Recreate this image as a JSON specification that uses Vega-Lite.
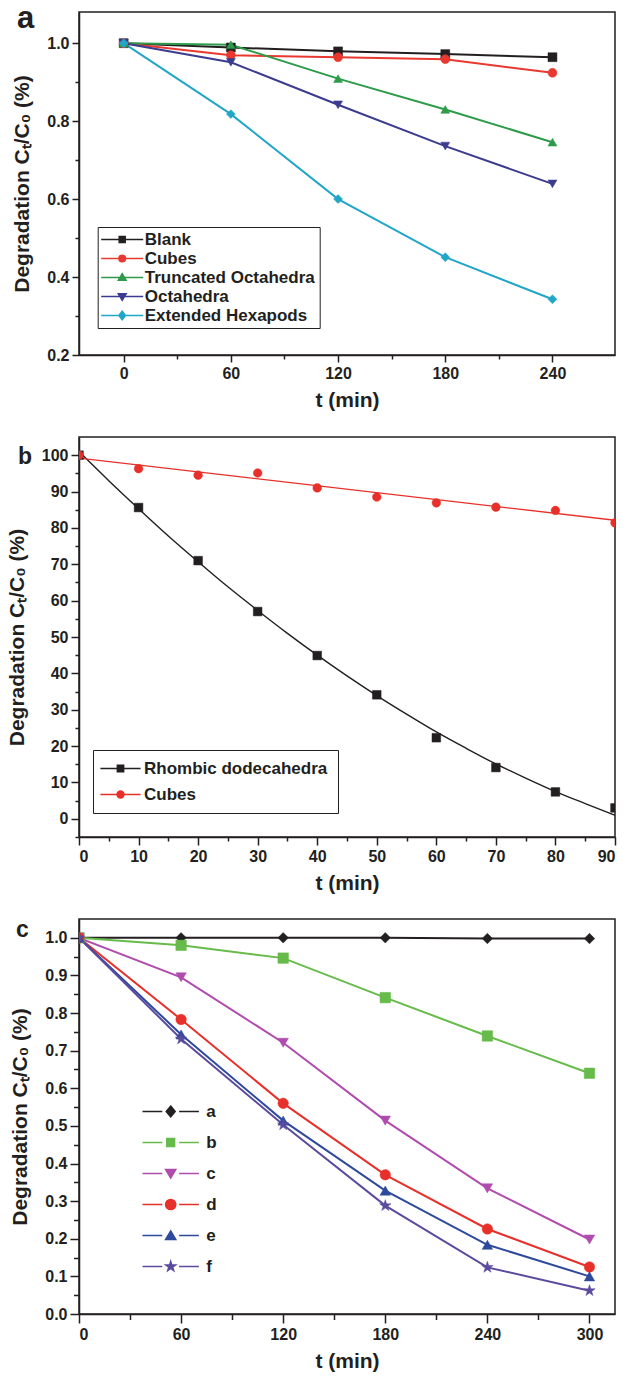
{
  "$schema": "https://vega.github.io/schema/vega-lite/v6.json",
  "background": "white",
  "padding": {"left": 5, "top": 2, "right": 10, "bottom": 6},
  "bounds": "flush",
  "spacing": 82,
  "resolve": {
    "scale": {"color": "independent", "fill": "independent", "stroke": "independent", "shape": "independent"},
    "legend": {"color": "independent", "fill": "independent", "stroke": "independent", "shape": "independent"}
  },
  "datasets": {
    "a": [
      {"series": "Blank", "t": 0, "v": 1.0}, {"series": "Blank", "t": 60, "v": 0.989}, {"series": "Blank", "t": 120, "v": 0.979}, {"series": "Blank", "t": 180, "v": 0.972}, {"series": "Blank", "t": 240, "v": 0.964},
      {"series": "Cubes", "t": 0, "v": 1.0}, {"series": "Cubes", "t": 60, "v": 0.969}, {"series": "Cubes", "t": 120, "v": 0.964}, {"series": "Cubes", "t": 180, "v": 0.959}, {"series": "Cubes", "t": 240, "v": 0.924},
      {"series": "Truncated Octahedra", "t": 0, "v": 1.0}, {"series": "Truncated Octahedra", "t": 60, "v": 0.996}, {"series": "Truncated Octahedra", "t": 120, "v": 0.909}, {"series": "Truncated Octahedra", "t": 180, "v": 0.83}, {"series": "Truncated Octahedra", "t": 240, "v": 0.746},
      {"series": "Octahedra", "t": 0, "v": 1.0}, {"series": "Octahedra", "t": 60, "v": 0.951}, {"series": "Octahedra", "t": 120, "v": 0.842}, {"series": "Octahedra", "t": 180, "v": 0.736}, {"series": "Octahedra", "t": 240, "v": 0.639},
      {"series": "Extended Hexapods", "t": 0, "v": 1.0}, {"series": "Extended Hexapods", "t": 60, "v": 0.818}, {"series": "Extended Hexapods", "t": 120, "v": 0.6}, {"series": "Extended Hexapods", "t": 180, "v": 0.451}, {"series": "Extended Hexapods", "t": 240, "v": 0.343}
    ],
    "b_pts": [
      {"series": "Rhombic dodecahedra", "t": 0, "v": 100}, {"series": "Rhombic dodecahedra", "t": 10, "v": 85.6}, {"series": "Rhombic dodecahedra", "t": 20, "v": 71.0}, {"series": "Rhombic dodecahedra", "t": 30, "v": 57.0}, {"series": "Rhombic dodecahedra", "t": 40, "v": 44.9}, {"series": "Rhombic dodecahedra", "t": 50, "v": 34.1}, {"series": "Rhombic dodecahedra", "t": 60, "v": 22.3}, {"series": "Rhombic dodecahedra", "t": 70, "v": 14.1}, {"series": "Rhombic dodecahedra", "t": 80, "v": 7.4}, {"series": "Rhombic dodecahedra", "t": 90, "v": 3.0},
      {"series": "Cubes", "t": 0, "v": 100}, {"series": "Cubes", "t": 10, "v": 96.3}, {"series": "Cubes", "t": 20, "v": 94.5}, {"series": "Cubes", "t": 30, "v": 95.1}, {"series": "Cubes", "t": 40, "v": 91.0}, {"series": "Cubes", "t": 50, "v": 88.5}, {"series": "Cubes", "t": 60, "v": 86.9}, {"series": "Cubes", "t": 70, "v": 85.7}, {"series": "Cubes", "t": 80, "v": 84.8}, {"series": "Cubes", "t": 90, "v": 81.4}
    ],
    "b_fit": [
      {"series": "Rhombic dodecahedra", "t": 0, "v": 101.0}, {"series": "Rhombic dodecahedra", "t": 5, "v": 93.0}, {"series": "Rhombic dodecahedra", "t": 10, "v": 85.3}, {"series": "Rhombic dodecahedra", "t": 15, "v": 77.8}, {"series": "Rhombic dodecahedra", "t": 20, "v": 70.7}, {"series": "Rhombic dodecahedra", "t": 25, "v": 63.8}, {"series": "Rhombic dodecahedra", "t": 30, "v": 57.3}, {"series": "Rhombic dodecahedra", "t": 35, "v": 51.0}, {"series": "Rhombic dodecahedra", "t": 40, "v": 45.0}, {"series": "Rhombic dodecahedra", "t": 45, "v": 39.3}, {"series": "Rhombic dodecahedra", "t": 50, "v": 33.9}, {"series": "Rhombic dodecahedra", "t": 55, "v": 28.8}, {"series": "Rhombic dodecahedra", "t": 60, "v": 23.9}, {"series": "Rhombic dodecahedra", "t": 65, "v": 19.4}, {"series": "Rhombic dodecahedra", "t": 70, "v": 15.1}, {"series": "Rhombic dodecahedra", "t": 75, "v": 11.2}, {"series": "Rhombic dodecahedra", "t": 80, "v": 7.5}, {"series": "Rhombic dodecahedra", "t": 85, "v": 4.2}, {"series": "Rhombic dodecahedra", "t": 90, "v": 1.0},
      {"series": "Cubes", "t": 0, "v": 99.2}, {"series": "Cubes", "t": 90, "v": 82.1}
    ],
    "c": [
      {"series": "a", "t": 0, "v": 1.0}, {"series": "a", "t": 60, "v": 1.0}, {"series": "a", "t": 120, "v": 1.0}, {"series": "a", "t": 180, "v": 1.0}, {"series": "a", "t": 240, "v": 0.998}, {"series": "a", "t": 300, "v": 0.998},
      {"series": "b", "t": 0, "v": 1.0}, {"series": "b", "t": 60, "v": 0.98}, {"series": "b", "t": 120, "v": 0.946}, {"series": "b", "t": 180, "v": 0.841}, {"series": "b", "t": 240, "v": 0.739}, {"series": "b", "t": 300, "v": 0.64},
      {"series": "c", "t": 0, "v": 1.0}, {"series": "c", "t": 60, "v": 0.895}, {"series": "c", "t": 120, "v": 0.721}, {"series": "c", "t": 180, "v": 0.514}, {"series": "c", "t": 240, "v": 0.334}, {"series": "c", "t": 300, "v": 0.198},
      {"series": "d", "t": 0, "v": 1.0}, {"series": "d", "t": 60, "v": 0.783}, {"series": "d", "t": 120, "v": 0.56}, {"series": "d", "t": 180, "v": 0.37}, {"series": "d", "t": 240, "v": 0.226}, {"series": "d", "t": 300, "v": 0.125},
      {"series": "e", "t": 0, "v": 1.0}, {"series": "e", "t": 60, "v": 0.743}, {"series": "e", "t": 120, "v": 0.514}, {"series": "e", "t": 180, "v": 0.328}, {"series": "e", "t": 240, "v": 0.184}, {"series": "e", "t": 300, "v": 0.1},
      {"series": "f", "t": 0, "v": 1.0}, {"series": "f", "t": 60, "v": 0.731}, {"series": "f", "t": 120, "v": 0.503}, {"series": "f", "t": 180, "v": 0.288}, {"series": "f", "t": 240, "v": 0.124}, {"series": "f", "t": 300, "v": 0.062}
    ]
  },
  "vconcat": [
    {
      "width": 536,
      "height": 343,
      "title": {"text": "a", "anchor": "start", "frame": "group", "orient": "none", "fontSize": 31, "fontWeight": "bold", "baseline": "alphabetic", "offset": 0, "dx": -62, "dy": 16},
      "data": {"name": "a"},
      "layer": [
        {
          "mark": {"type": "line", "strokeWidth": 2},
          "encoding": {
            "x": {"field": "t", "type": "quantitative", "scale": {"domain": [-25, 275], "nice": false, "zero": false}, "axis": {"orient": "bottom", "values": [0, 60, 120, 180, 240], "title": "t (min)", "tickSize": 7}},
            "y": {"field": "v", "type": "quantitative", "scale": {"domain": [0.2, 1.08], "nice": false, "zero": false}, "axis": {"orient": "left", "values": [0.2, 0.4, 0.6, 0.8, 1.0], "format": ".1f", "title": "Degradation Cₜ/C₀ (%)", "tickSize": 7}},
            "stroke": {"field": "series", "type": "nominal", "scale": {"domain": ["Blank", "Cubes", "Truncated Octahedra", "Octahedra", "Extended Hexapods"], "range": ["#231f20", "#e8382f", "#2e9b4a", "#3b3b8f", "#22a6c8"]}, "legend": null}
          }
        },
        {
          "mark": {"type": "point", "filled": true, "size": 80, "strokeWidth": 0.5, "opacity": 1},
          "encoding": {
            "x": {"field": "t", "type": "quantitative", "axis": {"orient": "bottom", "values": [30, 90, 150, 210], "labels": false, "domain": false, "tickSize": 4, "title": null}},
            "y": {"field": "v", "type": "quantitative", "axis": {"orient": "left", "values": [0.3, 0.5, 0.7, 0.9], "labels": false, "domain": false, "tickSize": 4, "title": null}},
            "fill": {"field": "series", "type": "nominal", "scale": {"domain": ["Blank", "Cubes", "Truncated Octahedra", "Octahedra", "Extended Hexapods"], "range": ["#231f20", "#e8382f", "#2e9b4a", "#3b3b8f", "#22a6c8"]}, "legend": null},
            "stroke": {"field": "series", "type": "nominal", "scale": {"domain": ["Blank", "Cubes", "Truncated Octahedra", "Octahedra", "Extended Hexapods"], "range": ["#231f20", "#e8382f", "#2e9b4a", "#3b3b8f", "#22a6c8"]}, "legend": null},
            "shape": {"field": "series", "type": "nominal", "scale": {"domain": ["Blank", "Cubes", "Truncated Octahedra", "Octahedra", "Extended Hexapods"], "range": ["square", "circle", "triangle-up", "triangle-down", "diamond"]}, "legend": null}
          }
        },
        {
          "mark": {"type": "point", "filled": true, "size": 36, "strokeWidth": 1.5, "opacity": 0},
          "encoding": {
            "x": {"field": "t", "type": "quantitative", "axis": null},
            "y": {"field": "v", "type": "quantitative", "axis": null},
            "fill": {"field": "series", "type": "nominal", "scale": {"domain": ["Blank", "Cubes", "Truncated Octahedra", "Octahedra", "Extended Hexapods"], "range": ["#231f20", "#e8382f", "#2e9b4a", "#3b3b8f", "#22a6c8"]},
              "legend": {"title": null, "orient": "none", "legendX": 18.7, "legendY": 215, "padding": 4, "strokeColor": "#231f20", "fillColor": "white", "symbolSize": 36, "symbolStrokeWidth": 1.5, "symbolOpacity": 1, "symbolOffset": 12, "labelOffset": 14, "rowPadding": 1, "labelFontSize": 17, "labelLimit": 400}},
            "stroke": {"field": "series", "type": "nominal", "scale": {"domain": ["Blank", "Cubes", "Truncated Octahedra", "Octahedra", "Extended Hexapods"], "range": ["#231f20", "#e8382f", "#2e9b4a", "#3b3b8f", "#22a6c8"]},
              "legend": {"title": null, "orient": "none", "legendX": 18.7, "legendY": 215, "padding": 4, "strokeColor": "#231f20", "fillColor": "white", "symbolSize": 36, "symbolStrokeWidth": 1.5, "symbolOpacity": 1, "symbolOffset": 12, "labelOffset": 14, "rowPadding": 1, "labelFontSize": 17, "labelLimit": 400}},
            "shape": {"field": "series", "type": "nominal", "scale": {"domain": ["Blank", "Cubes", "Truncated Octahedra", "Octahedra", "Extended Hexapods"], "range": ["M-7,0H7M-1,-1H1V1H-1Z", "M-7,0H7M1.1,0A1.1,1.1,0,1,1,-1.1,0A1.1,1.1,0,1,1,1.1,0Z", "M-7,0H7M0,-1.3L1.3,0.9H-1.3Z", "M-7,0H7M0,1.3L1.3,-0.9H-1.3Z", "M-7,0H7M0,-1.4L1.1,0L0,1.4L-1.1,0Z"]},
              "legend": {"title": null, "orient": "none", "legendX": 18.7, "legendY": 215, "padding": 4, "strokeColor": "#231f20", "fillColor": "white", "symbolSize": 36, "symbolStrokeWidth": 1.5, "symbolOpacity": 1, "symbolOffset": 12, "labelOffset": 14, "rowPadding": 1, "labelFontSize": 17, "labelLimit": 400}}
          }
        }
      ],
      "resolve": {"axis": {"x": "independent", "y": "independent"}, "scale": {"fill": "independent", "stroke": "independent", "shape": "independent"}}
    },
    {
      "width": 536,
      "height": 400,
      "title": {"text": "b", "anchor": "start", "frame": "group", "orient": "none", "fontSize": 23, "fontWeight": "bold", "baseline": "alphabetic", "offset": 0, "dx": -61, "dy": 27},
      "layer": [
        {
          "data": {"name": "b_fit"},
          "mark": {"type": "line", "strokeWidth": 1.4, "interpolate": "monotone", "clip": true},
          "encoding": {
            "x": {"field": "t", "type": "quantitative", "scale": {"domain": [0, 90], "nice": false, "zero": false}, "axis": {"orient": "bottom", "values": [0, 10, 20, 30, 40, 50, 60, 70, 80, 90], "title": "t (min)", "tickSize": 8}},
            "y": {"field": "v", "type": "quantitative", "scale": {"domain": [-5, 105], "nice": false, "zero": false}, "axis": {"orient": "left", "values": [0, 10, 20, 30, 40, 50, 60, 70, 80, 90, 100], "title": "Degradation Cₜ/C₀ (%)", "tickSize": 8}},
            "stroke": {"field": "series", "type": "nominal", "scale": {"domain": ["Rhombic dodecahedra", "Cubes"], "range": ["#231f20", "#e8302a"]}, "legend": null}
          }
        },
        {
          "data": {"name": "b_pts"},
          "mark": {"type": "point", "filled": true, "size": 75, "strokeWidth": 0.5, "opacity": 1, "clip": true},
          "encoding": {
            "x": {"field": "t", "type": "quantitative", "axis": {"orient": "bottom", "values": [5, 15, 25, 35, 45, 55, 65, 75, 85], "labels": false, "domain": false, "tickSize": 4, "title": null}},
            "y": {"field": "v", "type": "quantitative", "axis": {"orient": "left", "values": [-5, 5, 15, 25, 35, 45, 55, 65, 75, 85, 95], "labels": false, "domain": false, "tickSize": 4, "title": null}},
            "fill": {"field": "series", "type": "nominal", "scale": {"domain": ["Rhombic dodecahedra", "Cubes"], "range": ["#231f20", "#e8302a"]}, "legend": null},
            "stroke": {"field": "series", "type": "nominal", "scale": {"domain": ["Rhombic dodecahedra", "Cubes"], "range": ["#231f20", "#e8302a"]}, "legend": null},
            "shape": {"field": "series", "type": "nominal", "scale": {"domain": ["Rhombic dodecahedra", "Cubes"], "range": ["square", "circle"]}, "legend": null}
          }
        },
        {
          "data": {"name": "b_pts"},
          "mark": {"type": "point", "filled": true, "size": 36, "strokeWidth": 1.5, "opacity": 0},
          "encoding": {
            "x": {"field": "t", "type": "quantitative", "axis": null},
            "y": {"field": "v", "type": "quantitative", "axis": null},
            "fill": {"field": "series", "type": "nominal", "scale": {"domain": ["Rhombic dodecahedra", "Cubes"], "range": ["#231f20", "#e8302a"]},
              "legend": {"title": null, "orient": "none", "legendX": 14, "legendY": 313, "padding": 10, "strokeColor": "#231f20", "fillColor": "white", "symbolSize": 36, "symbolStrokeWidth": 1.5, "symbolOpacity": 1, "symbolOffset": 9, "labelOffset": 15, "rowPadding": 8, "labelFontSize": 17, "labelLimit": 400}},
            "stroke": {"field": "series", "type": "nominal", "scale": {"domain": ["Rhombic dodecahedra", "Cubes"], "range": ["#231f20", "#e8302a"]},
              "legend": {"title": null, "orient": "none", "legendX": 14, "legendY": 313, "padding": 10, "strokeColor": "#231f20", "fillColor": "white", "symbolSize": 36, "symbolStrokeWidth": 1.5, "symbolOpacity": 1, "symbolOffset": 9, "labelOffset": 15, "rowPadding": 8, "labelFontSize": 17, "labelLimit": 400}},
            "shape": {"field": "series", "type": "nominal", "scale": {"domain": ["Rhombic dodecahedra", "Cubes"], "range": ["M-6.7,0H6.7M-1.05,-1.05H1.05V1.05H-1.05Z", "M-6.7,0H6.7M1.15,0A1.15,1.15,0,1,1,-1.15,0A1.15,1.15,0,1,1,1.15,0Z"]},
              "legend": {"title": null, "orient": "none", "legendX": 14, "legendY": 313, "padding": 10, "strokeColor": "#231f20", "fillColor": "white", "symbolSize": 36, "symbolStrokeWidth": 1.5, "symbolOpacity": 1, "symbolOffset": 9, "labelOffset": 15, "rowPadding": 8, "labelFontSize": 17, "labelLimit": 400}}
          }
        }
      ],
      "resolve": {"axis": {"x": "independent", "y": "independent"}, "scale": {"fill": "independent", "stroke": "independent", "shape": "independent"}}
    },
    {
      "width": 536,
      "height": 395,
      "title": {"text": "c", "anchor": "start", "frame": "group", "orient": "none", "fontSize": 23, "fontWeight": "bold", "baseline": "alphabetic", "offset": 0, "dx": -63, "dy": 18},
      "data": {"name": "c"},
      "layer": [
        {
          "mark": {"type": "line", "strokeWidth": 2, "clip": true},
          "encoding": {
            "x": {"field": "t", "type": "quantitative", "scale": {"domain": [0, 315], "nice": false, "zero": false}, "axis": {"orient": "bottom", "values": [0, 60, 120, 180, 240, 300], "title": "t (min)", "tickSize": 9}},
            "y": {"field": "v", "type": "quantitative", "scale": {"domain": [0, 1.05], "nice": false, "zero": false}, "axis": {"orient": "left", "values": [0, 0.1, 0.2, 0.3, 0.4, 0.5, 0.6, 0.7, 0.8, 0.9, 1.0], "format": ".1f", "title": "Degradation Cₜ/C₀ (%)", "tickSize": 9}},
            "stroke": {"field": "series", "type": "nominal", "scale": {"domain": ["a", "b", "c", "d", "e", "f"], "range": ["#231f20", "#66bb4a", "#b04cae", "#e8302a", "#2e4a9c", "#5b4a9e"]}, "legend": null}
          }
        },
        {
          "mark": {"type": "point", "filled": true, "size": 110, "strokeWidth": 0.5, "opacity": 1, "clip": true},
          "encoding": {
            "x": {"field": "t", "type": "quantitative", "axis": {"orient": "bottom", "values": [30, 90, 150, 210, 270], "labels": false, "domain": false, "tickSize": 5.5, "title": null}},
            "y": {"field": "v", "type": "quantitative", "axis": {"orient": "left", "values": [0.05, 0.15, 0.25, 0.35, 0.45, 0.55, 0.65, 0.75, 0.85, 0.95], "labels": false, "domain": false, "tickSize": 5.5, "title": null}},
            "fill": {"field": "series", "type": "nominal", "scale": {"domain": ["a", "b", "c", "d", "e", "f"], "range": ["#231f20", "#66bb4a", "#b04cae", "#e8302a", "#2e4a9c", "#5b4a9e"]}, "legend": null},
            "stroke": {"field": "series", "type": "nominal", "scale": {"domain": ["a", "b", "c", "d", "e", "f"], "range": ["#231f20", "#66bb4a", "#b04cae", "#e8302a", "#2e4a9c", "#5b4a9e"]}, "legend": null},
            "shape": {"field": "series", "type": "nominal", "scale": {"domain": ["a", "b", "c", "d", "e", "f"], "range": ["diamond", "square", "triangle-down", "circle", "triangle-up", "M0,-1.15L0.26,-0.36L1.09,-0.36L0.42,0.14L0.68,0.93L0,0.44L-0.68,0.93L-0.42,0.14L-1.09,-0.36L-0.26,-0.36Z"]}, "legend": null}
          }
        },
        {
          "mark": {"type": "point", "filled": true, "size": 36, "strokeWidth": 1.5, "opacity": 0},
          "encoding": {
            "x": {"field": "t", "type": "quantitative", "axis": null},
            "y": {"field": "v", "type": "quantitative", "axis": null},
            "fill": {"field": "series", "type": "nominal", "scale": {"domain": ["a", "b", "c", "d", "e", "f"], "range": ["#231f20", "#66bb4a", "#b04cae", "#e8302a", "#2e4a9c", "#5b4a9e"]},
              "legend": {"title": null, "orient": "none", "legendX": 63.7, "legendY": 184, "padding": 0, "symbolSize": 36, "symbolStrokeWidth": 1.5, "symbolOpacity": 1, "symbolOffset": 19.5, "labelOffset": 27, "rowPadding": 13, "labelFontSize": 17, "labelLimit": 400}},
            "stroke": {"field": "series", "type": "nominal", "scale": {"domain": ["a", "b", "c", "d", "e", "f"], "range": ["#231f20", "#66bb4a", "#b04cae", "#e8302a", "#2e4a9c", "#5b4a9e"]},
              "legend": {"title": null, "orient": "none", "legendX": 63.7, "legendY": 184, "padding": 0, "symbolSize": 36, "symbolStrokeWidth": 1.5, "symbolOpacity": 1, "symbolOffset": 19.5, "labelOffset": 27, "rowPadding": 13, "labelFontSize": 17, "labelLimit": 400}},
            "shape": {"field": "series", "type": "nominal", "scale": {"domain": ["a", "b", "c", "d", "e", "f"], "range": ["M-9.4,0H-2.8M2.8,0H9.4M0,-1.8L1.5,0L0,1.8L-1.5,0Z", "M-9.4,0H-2.8M2.8,0H9.4M-1.3,-1.3H1.3V1.3H-1.3Z", "M-9.4,0H-2.8M2.8,0H9.4M0,1.5L1.7,-1.3H-1.7Z", "M-9.4,0H-2.8M2.8,0H9.4M1.7,0A1.7,1.7,0,1,1,-1.7,0A1.7,1.7,0,1,1,1.7,0Z", "M-9.4,0H-2.8M2.8,0H9.4M0,-1.5L1.7,1.3H-1.7Z", "M-9.4,0H-2.8M2.8,0H9.4M0,-1.7L0.38,-0.53L1.62,-0.53L0.62,0.2L1,1.38L0,0.65L-1,1.38L-0.62,0.2L-1.62,-0.53L-0.38,-0.53Z"]},
              "legend": {"title": null, "orient": "none", "legendX": 63.7, "legendY": 184, "padding": 0, "symbolSize": 36, "symbolStrokeWidth": 1.5, "symbolOpacity": 1, "symbolOffset": 19.5, "labelOffset": 27, "rowPadding": 13, "labelFontSize": 17, "labelLimit": 400}}
          }
        }
      ],
      "resolve": {"axis": {"x": "independent", "y": "independent"}, "scale": {"fill": "independent", "stroke": "independent", "shape": "independent"}}
    }
  ],
  "config": {
    "font": "Liberation Sans",
    "view": {"stroke": "#231f20", "strokeWidth": 1.5},
    "axis": {"grid": false, "domainColor": "#231f20", "domainWidth": 1.5, "tickColor": "#231f20", "tickWidth": 1.5, "labelFont": "Liberation Sans", "labelFontSize": 16, "labelFontWeight": "bold", "labelColor": "#231f20", "labelPadding": 3, "titleFont": "Liberation Sans", "titleFontSize": 21, "titleFontWeight": "bold", "titleColor": "#231f20"},
    "axisX": {"titlePadding": 8},
    "axisY": {"titlePadding": 14},
    "legend": {"labelFont": "Liberation Sans", "labelFontWeight": "bold", "labelColor": "#231f20", "cornerRadius": 0},
    "title": {"font": "Liberation Sans", "color": "#231f20"}
  }
}
